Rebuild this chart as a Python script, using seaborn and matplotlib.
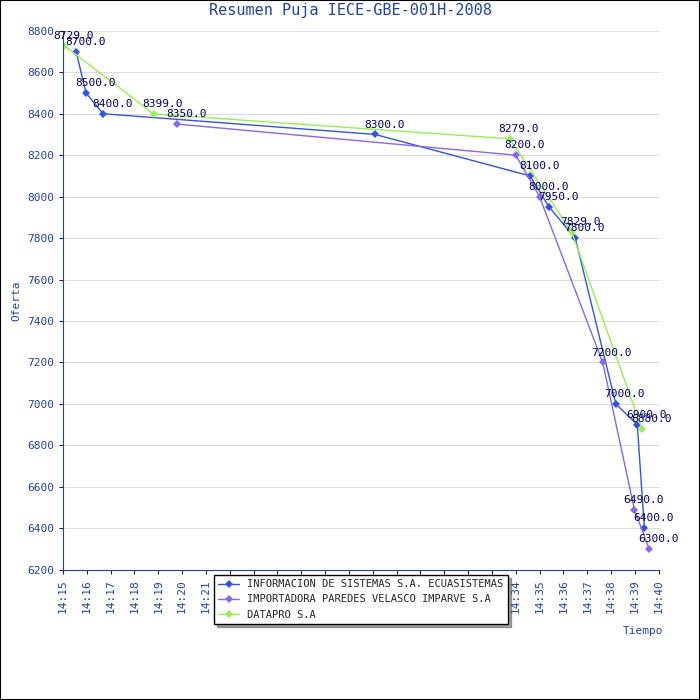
import matplotlib
matplotlib.use("Agg")
import matplotlib.pyplot as plt
import seaborn as sns
import pandas as pd

# series (time, offer)
blue_name = "INFORMACION DE SISTEMAS S.A. ECUASISTEMAS"
blue_times = ["14:15:33", "14:15:58", "14:16:41", "14:28:06", "14:34:36", "14:35:24",
              "14:36:30", "14:38:12", "14:39:06", "14:39:24"]
blue_vals = [8700, 8500, 8400, 8300, 8100, 7950, 7800, 7000, 6900, 6400]

purple_name = "IMPORTADORA PAREDES VELASCO IMPARVE S.A"
purple_times = ["14:19:48", "14:34:00", "14:35:00", "14:37:39", "14:38:59", "14:39:36"]
purple_vals = [8350, 8200, 8000, 7200, 6490, 6300]

green_name = "DATAPRO S.A"
green_times = ["14:15:03", "14:18:48", "14:33:45", "14:36:21", "14:39:18"]
green_vals = [8729, 8399, 8279, 7829, 6880]

tick_labels = [f"14:{m}" for m in range(15, 41)]
colors = {blue_name: "#3355dd", purple_name: "#8866ee", green_name: "#99ee55"}


def to_min(t):
    h, m, s = map(int, t.split(":"))
    return (h - 14) * 60 + m + s / 60


rows = []
for name, ts, vs in [(blue_name, blue_times, blue_vals),
                     (purple_name, purple_times, purple_vals),
                     (green_name, green_times, green_vals)]:
    for t, v in zip(ts, vs):
        rows.append({"serie": name, "min": to_min(t), "oferta": v})
df = pd.DataFrame(rows)

sns.set_style("white")
plt.rcParams['font.family'] = ['DejaVu Sans Mono', 'DejaVu Sans']
fig = plt.figure(figsize=(7, 7), dpi=100)
ax = fig.add_axes([0.09, 0.186, 0.851, 0.77])

sns.lineplot(data=df, x="min", y="oferta", hue="serie", palette=colors,
             marker="D", markersize=4, markeredgewidth=0, linewidth=1,
             sort=False, estimator=None, ax=ax)

for _, r in df.iterrows():
    ax.annotate(f"{r['oferta']:.1f}", (r["min"], r["oferta"]), xytext=(-8, 5),
                textcoords="offset points", fontsize=8, color="#000066")

ax.set_xlim(15, 40)
ax.set_ylim(6200, 8800)
ax.set_xticks(range(15, 41))
ax.set_xticklabels(tick_labels, rotation=90, fontsize=8, color="#224499")
ax.set_yticks(range(6200, 8801, 200))
ax.tick_params(axis="y", labelsize=8, labelcolor="#224499", left=True, length=3)
ax.tick_params(axis="x", bottom=True, length=3)
ax.yaxis.grid(True, color="#dddddd")
for s in ["top", "right"]:
    ax.spines[s].set_visible(False)
for s in ["left", "bottom"]:
    ax.spines[s].set_color("#224499")
ax.set_xlabel("")
ax.set_ylabel("Oferta", fontsize=8, color="#224499")
fig.text(0.89, 0.095, "Tiempo", fontsize=8, color="#224499")
fig.text(0.5, 0.978, "Resumen Puja IECE-GBE-001H-2008", ha="center", fontsize=11,
         color="#224499")

leg = ax.legend(loc="upper center", bbox_to_anchor=(0.5, -0.0), fontsize=7.5,
                frameon=True, shadow=True, fancybox=False, handlelength=2)
leg.get_frame().set_edgecolor("black")

fig.patches.append(plt.Rectangle((0, 0), 1, 1, transform=fig.transFigure,
                                 fill=False, edgecolor="black", linewidth=1.5))
fig.savefig("out.png", dpi=100)
